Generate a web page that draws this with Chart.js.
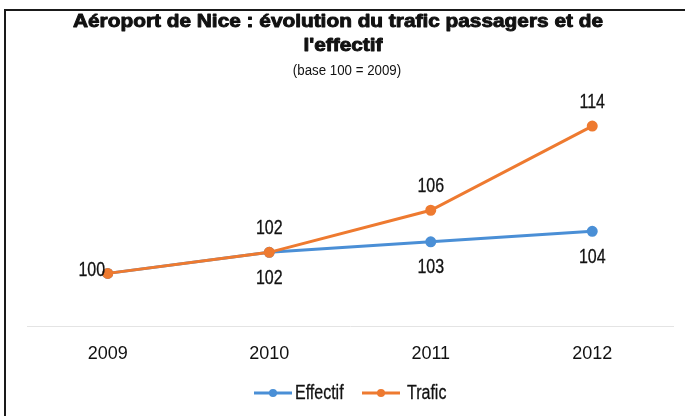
<!DOCTYPE html>
<html>
<head>
<meta charset="utf-8">
<script src="https://cdn.jsdelivr.net/npm/chart.js@4/dist/chart.umd.min.js"></script>
<style>
    html, body { margin: 0; padding: 0; background: #fff; }
    #wrap { position: relative; width: 685px; height: 416px; overflow: hidden; }
    #chart { position: absolute; left: 0; top: 0; }
    #frame { position: absolute; left: 4px; top: 9px; width: 690px; height: 420px;
             border-top: 2px solid #1a1a1a; border-left: 2px solid #1a1a1a; pointer-events: none; }
</style>
</head>
<body>
<div id="wrap">
    <canvas id="chart" width="685" height="416"></canvas>
    <div id="frame"></div>
</div>
<script>
(function () {
    'use strict';

    var years = ['2009', '2010', '2011', '2012'];
    var effectif = [100, 102, 103, 104];
    var trafic = [100, 102, 106, 114];
    var seriesNames = ['Effectif', 'Trafic'];
    var seriesColors = ['#4a8fd6', '#ee7a30'];

    var titleLines = ['Aéroport de Nice : évolution du trafic passagers et de', "l'effectif"];
    var subTitle = '(base 100 = 2009)';

    var sans = '"Liberation Sans", Arial, sans-serif';

    // text squeezed or stretched horizontally to mimic the narrow / heavy fonts
    function drawText(ctx, txt, x, y, sx, heavy) {
        ctx.save();
        ctx.translate(x, y);
        ctx.scale(sx, 1);
        if (heavy) {
            ctx.lineWidth = heavy;
            ctx.strokeStyle = ctx.fillStyle;
            ctx.lineJoin = 'round';
            ctx.strokeText(txt, 0, 0);
        }
        ctx.fillText(txt, 0, 0);
        ctx.restore();
    }

    /* ---- title, value labels and legend ---- */
    var decorations = {
        id: 'decorations',
        afterDatasetsDraw: function (chart) {
            var ctx = chart.ctx;
            ctx.save();
            ctx.fillStyle = '#111';
            ctx.textAlign = 'center';
            ctx.textBaseline = 'middle';

            ctx.font = 'bold 18px ' + sans;
            var w = ctx.measureText(titleLines[0]).width;
            var sx = 530 / w;
            drawText(ctx, titleLines[0], 338, 22, sx, 0.9);
            drawText(ctx, titleLines[1], 343, 46, sx, 0.9);
            ctx.font = '14px ' + sans;
            drawText(ctx, subTitle, 347, 71, 0.95);

            // value labels: trafic above, effectif below
            ctx.font = '20px ' + sans;
            chart.data.datasets.forEach(function (ds, di) {
                var meta = chart.getDatasetMeta(di);
                meta.data.forEach(function (pt, i) {
                    var v = ds.data[i];
                    if (i === 0) {
                        if (di === 1) drawText(ctx, String(v), pt.x - 16, pt.y - 3, 0.8, 0.3);
                        return;
                    }
                    var dy = di === 1 ? -24 : 26;
                    drawText(ctx, String(v), pt.x, pt.y + dy, 0.8, 0.3);
                });
            });

            // legend
            var items = [{ x: 254, tx: 295 }, { x: 362, tx: 407 }];
            ctx.textAlign = 'left';
            items.forEach(function (it, i) {
                var y = 393;
                ctx.strokeStyle = seriesColors[i];
                ctx.lineWidth = 3;
                ctx.beginPath();
                ctx.moveTo(it.x, y);
                ctx.lineTo(it.x + 38, y);
                ctx.stroke();
                ctx.fillStyle = seriesColors[i];
                ctx.beginPath();
                ctx.arc(it.x + 19, y, 4, 0, Math.PI * 2);
                ctx.fill();
                ctx.fillStyle = '#111';
                ctx.font = '20px ' + sans;
                drawText(ctx, seriesNames[i], it.tx, y, 0.8, 0.3);
            });
            ctx.restore();
        }
    };

    new Chart(document.getElementById('chart'), {
        type: 'line',
        data: {
            labels: years,
            datasets: [
                { label: seriesNames[0], data: effectif, borderColor: seriesColors[0], backgroundColor: seriesColors[0],
                  borderWidth: 3, pointRadius: 4, tension: 0, order: 1 },
                { label: seriesNames[1], data: trafic, borderColor: seriesColors[1], backgroundColor: seriesColors[1],
                  borderWidth: 3, pointRadius: 4, tension: 0, order: 0 }
            ]
        },
        options: {
            responsive: false,
            animation: false,
            layout: { padding: { left: 27, right: 12, top: 105, bottom: 0 } },
            plugins: {
                legend: { display: false },
                title: { display: false },
                tooltip: { enabled: false }
            },
            scales: {
                y: { display: false, min: 95, max: 116 },
                x: {
                    offset: true,
                    grid: { display: false, drawTicks: false },
                    border: { color: '#e4e4e4', width: 1 },
                    ticks: { color: '#111', padding: 17, font: { family: sans, size: 18 } },
                    afterFit: function (scale) { scale.height = 90; }
                }
            }
        },
        plugins: [decorations]
    });
})();
</script>
</body>
</html>
